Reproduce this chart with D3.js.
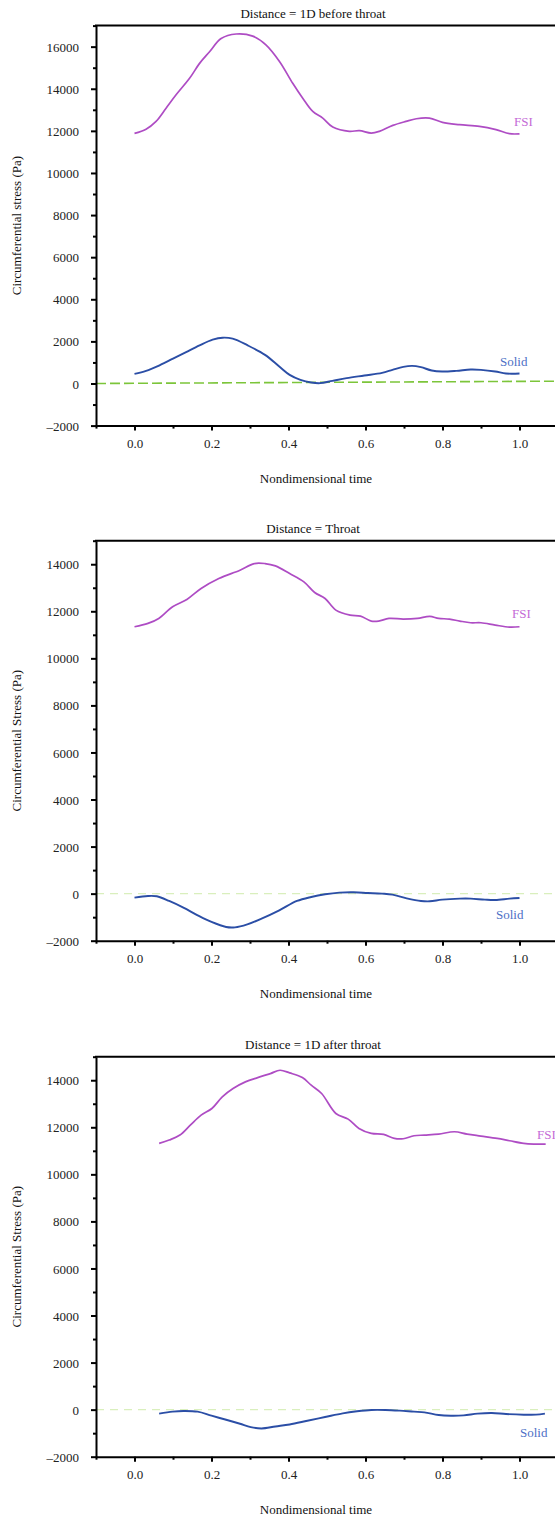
<!DOCTYPE html>
<html>
<head>
<meta charset="utf-8">
<script src="https://cdn.jsdelivr.net/npm/d3@7.9.0/dist/d3.min.js"></script>
<style>
  body { margin: 0; background: #fff; }
  svg { display: block; font-family: "Liberation Serif", "DejaVu Serif", serif; }
  .axis path, .axis line { stroke: #000; }
  .axis text { fill: #222; font-size: 13px; font-family: "Liberation Serif", serif; }
</style>
</head>
<body>
<svg id="chart" width="555" height="1518"></svg>
<script>
// --- DATA ---
const xTicks = [0.0, 0.2, 0.4, 0.6, 0.8, 1.0];
const xMinorTicks = [-0.1, 0.1, 0.3, 0.5, 0.7, 0.9, 1.1];

// panel 1: 1D before throat
const time1Fsi = [0, 0.03, 0.056, 0.082, 0.108, 0.143, 0.169, 0.195, 0.225, 0.264, 0.307, 0.342, 0.377, 0.411, 0.437, 0.463, 0.489, 0.515, 0.558, 0.584, 0.615, 0.636, 0.671, 0.705, 0.732, 0.766, 0.8, 0.844, 0.896, 0.939, 0.974, 1.0];
const fsi1 = [11880, 12080, 12450, 13077, 13711, 14496, 15205, 15758, 16387, 16600, 16500, 16075, 15286, 14260, 13550, 12922, 12605, 12180, 11976, 12009, 11896, 11976, 12260, 12449, 12577, 12605, 12401, 12293, 12212, 12056, 11867, 11860];
const time1Solid = [0, 0.03, 0.065, 0.1, 0.134, 0.169, 0.203, 0.229, 0.255, 0.294, 0.339, 0.376, 0.403, 0.431, 0.459, 0.482, 0.514, 0.551, 0.597, 0.643, 0.67, 0.698, 0.721, 0.744, 0.772, 0.799, 0.836, 0.873, 0.9, 0.937, 0.965, 1.0];
const solid1 = [454, 596, 865, 1182, 1494, 1811, 2080, 2175, 2128, 1811, 1360, 806, 411, 174, 47, 16, 126, 253, 379, 506, 648, 790, 838, 775, 617, 569, 601, 664, 648, 569, 474, 474];
const ref1 = [[-0.1, 0], [1.1, 110]];

// panel 2: throat
const time2Fsi = [0, 0.035, 0.063, 0.099, 0.136, 0.173, 0.219, 0.274, 0.311, 0.339, 0.366, 0.403, 0.44, 0.468, 0.495, 0.523, 0.56, 0.587, 0.615, 0.634, 0.661, 0.698, 0.735, 0.767, 0.79, 0.818, 0.845, 0.873, 0.9, 0.937, 0.974, 1.0];
const fsi2 = [11344, 11485, 11697, 12191, 12502, 12969, 13392, 13746, 14028, 14028, 13929, 13604, 13251, 12799, 12545, 12050, 11838, 11796, 11584, 11584, 11697, 11669, 11697, 11782, 11697, 11669, 11584, 11513, 11513, 11414, 11329, 11344];
const time2Solid = [0, 0.035, 0.058, 0.09, 0.127, 0.164, 0.2, 0.238, 0.261, 0.293, 0.33, 0.376, 0.422, 0.459, 0.495, 0.532, 0.569, 0.606, 0.643, 0.67, 0.707, 0.744, 0.767, 0.799, 0.845, 0.873, 0.91, 0.937, 0.974, 1.0];
const solid2 = [-170, -99, -113, -312, -596, -922, -1205, -1418, -1432, -1305, -1064, -709, -312, -142, -28, 43, 57, 28, 0, -43, -199, -312, -326, -255, -213, -213, -255, -270, -213, -184];
const ref2 = [[-0.1, 0], [1.1, 0]];

// panel 3: 1D after throat
const time3Fsi = [0.064, 0.09, 0.118, 0.145, 0.173, 0.201, 0.228, 0.256, 0.288, 0.32, 0.353, 0.378, 0.403, 0.436, 0.459, 0.486, 0.523, 0.555, 0.583, 0.615, 0.647, 0.675, 0.698, 0.726, 0.753, 0.79, 0.831, 0.864, 0.9, 0.942, 0.974, 1.011, 1.039, 1.068];
const fsi3 = [11315, 11457, 11669, 12092, 12516, 12799, 13293, 13647, 13929, 14113, 14283, 14424, 14311, 14113, 13788, 13435, 12587, 12347, 11951, 11739, 11697, 11527, 11513, 11640, 11669, 11711, 11810, 11711, 11626, 11527, 11428, 11315, 11287, 11287];
const time3Solid = [0.064, 0.099, 0.127, 0.164, 0.2, 0.238, 0.274, 0.302, 0.33, 0.366, 0.403, 0.449, 0.495, 0.541, 0.578, 0.615, 0.652, 0.689, 0.726, 0.753, 0.79, 0.822, 0.855, 0.891, 0.928, 0.965, 1.011, 1.043, 1.066];
const solid3 = [-171, -86, -57, -86, -257, -429, -600, -743, -800, -714, -629, -472, -314, -157, -71, -14, -14, -43, -86, -114, -229, -257, -243, -171, -143, -186, -214, -214, -171];
const ref3 = [[-0.1, 0], [1.1, 0]];

const titles = ["Distance = 1D before throat", "Distance = Throat", "Distance = 1D after throat"];
const yTitles = ["Circumferential stress (Pa)", "Circumferential Stress (Pa)", "Circumferential Stress (Pa)"];
const yMax = [17000, 15000, 15000];

// --- LAYOUT ---
const svg = d3.select("#chart");
const left = 96, right = 558;
const plotTops = [25.6, 540.7, 1056.7];
const plotH = 400;

const colors = { fsi: "#ae4cc4", fsiLabel: "#c46ad6", solid: "#2b4ea6", solidLabel: "#4d6fc6" };

const panels = [
  { fsiT: time1Fsi, fsi: fsi1, solT: time1Solid, sol: solid1, ref: ref1, refColor: "#7cc53a", refDash: "10,4", refW: 1.6,
    fsiLabel: [514, 126], solidLabel: [500, 366] },
  { fsiT: time2Fsi, fsi: fsi2, solT: time2Solid, sol: solid2, ref: ref2, refColor: "#d9efbd", refDash: "8,6", refW: 1.2,
    fsiLabel: [512, 618], solidLabel: [496, 919] },
  { fsiT: time3Fsi, fsi: fsi3, solT: time3Solid, sol: solid3, ref: ref3, refColor: "#d9efbd", refDash: "8,6", refW: 1.2,
    fsiLabel: [537, 1139], solidLabel: [520, 1437] }
];

const x = d3.scaleLinear().domain([-0.1, 1.1]).range([left, right]);

panels.forEach((p, i) => {
  const top = plotTops[i];
  const bottom = top + plotH;
  const y = d3.scaleLinear().domain([-2000, yMax[i]]).range([bottom, top]);
  const g = svg.append("g");

  // reference dashed line
  g.append("path")
    .attr("d", d3.line().x(d => x(d[0])).y(d => y(d[1]))(p.ref))
    .attr("fill", "none")
    .attr("stroke", p.refColor)
    .attr("stroke-width", p.refW)
    .attr("stroke-dasharray", p.refDash);

  const line = d3.line().curve(d3.curveCatmullRom.alpha(0.5)).x(d => x(d[0])).y(d => y(d[1]));

  g.append("path")
    .attr("d", line(p.fsiT.map((t, k) => [t, p.fsi[k]])))
    .attr("fill", "none")
    .attr("stroke", colors.fsi)
    .attr("stroke-width", 1.7);

  g.append("path")
    .attr("d", line(p.solT.map((t, k) => [t, p.sol[k]])))
    .attr("fill", "none")
    .attr("stroke", colors.solid)
    .attr("stroke-width", 1.9);

  // y minor + major ticks
  const yMajor = d3.range(-2000, yMax[i] + 1, 2000);
  const yMinor = d3.range(-1000, yMax[i] + 1, 2000);
  g.append("g").attr("class", "axis").attr("transform", `translate(${left},0)`)
    .call(d3.axisLeft(y).tickValues(yMinor).tickSize(3).tickFormat("").tickSizeOuter(0))
    .call(s => s.select(".domain").remove())
    .selectAll("line").attr("stroke-width", 2);
  g.append("g").attr("class", "axis").attr("transform", `translate(${left},0)`)
    .call(d3.axisLeft(y).tickValues(yMajor).tickSize(5).tickPadding(12).tickSizeOuter(0)
      .tickFormat(d => d < 0 ? "\u2013" + Math.abs(d) : d))
    .call(s => s.selectAll("line, path").attr("stroke-width", 2))
    .call(s => s.selectAll("text").attr("dy", "0.35em"));

  // x ticks
  g.append("g").attr("class", "axis").attr("transform", `translate(0,${bottom})`)
    .call(d3.axisBottom(x).tickValues(xMinorTicks).tickSize(3).tickFormat("").tickSizeOuter(0))
    .call(s => s.select(".domain").remove())
    .selectAll("line").attr("stroke-width", 2);
  g.append("g").attr("class", "axis").attr("transform", `translate(0,${bottom})`)
    .call(d3.axisBottom(x).tickValues(xTicks).tickSize(5).tickPadding(8).tickSizeOuter(0)
      .tickFormat(d3.format(".1f")))
    .call(s => s.selectAll("line, path").attr("stroke-width", 2));

  // top frame line
  g.append("line")
    .attr("x1", left - 1).attr("x2", right)
    .attr("y1", top).attr("y2", top)
    .attr("stroke", "#000").attr("stroke-width", 2);

  // titles
  g.append("text")
    .attr("x", 313).attr("y", top - 8)
    .attr("text-anchor", "middle")
    .attr("font-size", 13).attr("fill", "#111")
    .text(titles[i]);

  g.append("text")
    .attr("x", 316).attr("y", bottom + 57)
    .attr("text-anchor", "middle")
    .attr("font-size", 13).attr("fill", "#111")
    .text("Nondimensional time");

  g.append("text")
    .attr("transform", `translate(21,${top + plotH / 2}) rotate(-90)`)
    .attr("text-anchor", "middle")
    .attr("font-size", 13).attr("fill", "#111")
    .text(yTitles[i]);

  // series labels
  g.append("text")
    .attr("x", p.fsiLabel[0]).attr("y", p.fsiLabel[1])
    .attr("font-size", 13).attr("fill", colors.fsiLabel)
    .text("FSI");
  g.append("text")
    .attr("x", p.solidLabel[0]).attr("y", p.solidLabel[1])
    .attr("font-size", 13).attr("fill", colors.solidLabel)
    .text("Solid");
});
</script>
</body>
</html>
